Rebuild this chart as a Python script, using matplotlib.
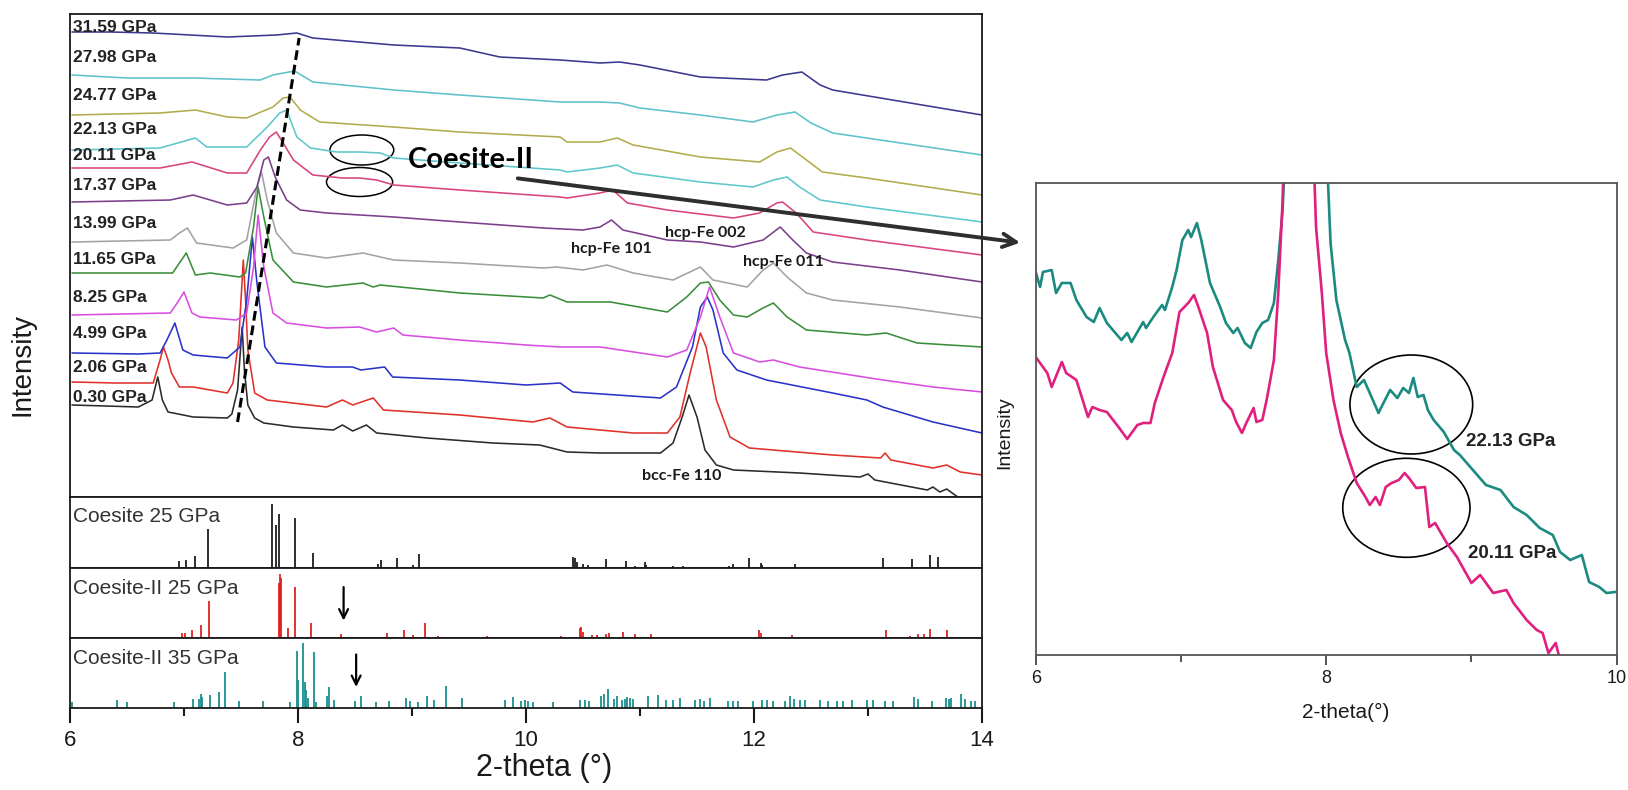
import matplotlib
matplotlib.use('Agg')
import matplotlib.pyplot as plt
from matplotlib.patches import Ellipse, FancyArrowPatch
from matplotlib.ticker import MultipleLocator, NullLocator

plt.rcParams['font.family'] = ['Liberation Sans', 'DejaVu Sans']

# ---------------- main panel traces (2-theta, intensity a.u.) ----------------
x_030 = [6.02, 6.60, 6.72, 6.77, 6.81, 6.86, 6.95, 7.08, 7.38, 7.42, 7.47, 7.51, 7.53, 7.56, 7.62, 7.70, 7.96, 8.31,
         8.39, 8.48, 8.60, 8.69, 9.13, 9.71, 10.12, 10.36, 10.65, 11.18, 11.29, 11.37, 11.43, 11.50, 11.57, 11.67,
         11.82, 12.40, 12.93, 13.00, 13.06, 13.52, 13.57, 13.63, 13.69, 13.80]
y_030 = [95, 93, 100, 123, 100, 88, 86, 83, 82, 86, 110, 173, 130, 95, 82, 77, 73, 70,
         75, 69, 75, 67, 62, 57, 55, 48, 47, 47, 57, 83, 105, 83, 50, 35,
         30, 27, 23, 26, 20, 10, 13, 8, 11, 2]

x_206 = [6.02, 6.40, 6.73, 6.79, 6.82, 6.86, 6.89, 6.96, 7.08, 7.38, 7.43, 7.48, 7.52, 7.54, 7.56, 7.62, 7.73, 8.25,
         8.39, 8.48, 8.66, 8.75, 9.42, 10.06, 10.21, 10.36, 10.94, 11.24, 11.35, 11.44, 11.53, 11.58, 11.67, 11.79,
         11.96, 12.69, 13.11, 13.15, 13.20, 13.57, 13.69, 13.81, 14.0]
y_206 = [118, 117, 117, 140, 153, 140, 127, 113, 113, 107, 117, 160, 240, 200, 150, 107, 100, 93,
         100, 95, 102, 90, 85, 78, 82, 73, 67, 67, 83, 127, 167, 153, 100, 63,
         52, 45, 42, 47, 40, 32, 35, 28, 25]

x_499 = [6.02, 6.60, 6.79, 6.85, 6.92, 6.99, 7.08, 7.38, 7.49, 7.55, 7.60, 7.64, 7.71, 7.81, 8.25, 8.48, 8.55, 8.76,
         8.83, 9.42, 10.0, 10.30, 10.41, 11.18, 11.32, 11.46, 11.53, 11.59, 11.64, 11.73, 11.85, 12.11, 12.69,
         12.99, 13.13, 13.57, 14.0]
y_499 = [147, 146, 147, 160, 177, 150, 145, 142, 153, 200, 263, 217, 153, 137, 133, 133, 130, 133,
         123, 120, 115, 117, 108, 102, 113, 153, 193, 203, 190, 147, 130, 120, 107,
         100, 93, 78, 67]

x_825 = [6.02, 6.88, 6.94, 7.00, 7.07, 7.14, 7.46, 7.55, 7.61, 7.65, 7.70, 7.78, 7.90, 8.25, 8.54, 8.69, 8.84, 8.92,
         9.42, 10.0, 10.30, 10.65, 11.24, 11.41, 11.53, 11.61, 11.70, 11.82, 12.05, 12.17, 12.40, 13.13, 13.57, 14.0]
y_825 = [185, 187, 197, 208, 187, 183, 180, 187, 233, 285, 233, 187, 177, 172, 173, 168, 172, 165,
         160, 155, 153, 153, 143, 150, 183, 213, 183, 147, 138, 140, 133, 120, 113, 108]

x_1165 = [6.02, 6.90, 6.96, 7.02, 7.10, 7.23, 7.49, 7.54, 7.61, 7.65, 7.70, 7.78, 7.96, 8.25, 8.57, 8.66, 8.72, 9.42,
          10.15, 10.21, 10.36, 10.74, 11.24, 11.41, 11.53, 11.60, 11.70, 11.82, 11.94, 12.08, 12.17, 12.29, 12.46,
          12.99, 13.16, 13.43, 14.0]
y_1165 = [227, 227, 237, 247, 225, 227, 223, 227, 273, 313, 283, 240, 218, 213, 217, 213, 215, 207,
          202, 205, 198, 198, 188, 203, 217, 218, 200, 185, 183, 192, 197, 183, 170,
          165, 167, 157, 153]

x_1399 = [6.02, 6.88, 6.96, 7.03, 7.11, 7.43, 7.55, 7.64, 7.68, 7.73, 7.81, 7.96, 8.25, 8.57, 8.84, 9.42, 10.15,
          10.27, 10.50, 10.71, 10.94, 11.29, 11.53, 11.64, 11.94, 12.08, 12.17, 12.29, 12.46, 12.69, 13.28, 14.0]
y_1399 = [258, 260, 267, 272, 257, 252, 260, 313, 328, 300, 267, 247, 242, 247, 240, 237, 232,
          233, 230, 235, 227, 220, 233, 220, 213, 230, 237, 223, 207, 200, 193, 182]

x_1737 = [6.02, 6.88, 7.08, 7.38, 7.55, 7.64, 7.70, 7.74, 7.80, 7.90, 8.02, 8.25, 8.84, 9.42, 10.15, 10.50, 10.65,
          10.75, 10.85, 11.24, 11.53, 11.82, 12.08, 12.23, 12.34, 12.46, 12.69, 13.28, 14.0]
y_1737 = [298, 300, 305, 295, 297, 313, 340, 343, 323, 300, 290, 287, 283, 278, 272, 270, 273,
          280, 270, 260, 258, 253, 260, 273, 260, 247, 238, 230, 218]

x_2011 = [6.02, 6.79, 7.07, 7.38, 7.55, 7.67, 7.75, 7.81, 7.87, 7.96, 8.13, 8.39, 8.54, 8.69, 8.84, 9.42, 10.30,
          10.36, 10.65, 10.76, 10.89, 11.24, 11.82, 12.05, 12.20, 12.25, 12.37, 12.52, 12.99, 14.0]
y_2011 = [332, 332, 338, 327, 327, 350, 363, 368, 357, 340, 325, 322, 322, 320, 315, 310, 303,
          302, 307, 310, 297, 290, 282, 287, 297, 298, 287, 268, 260, 245]

x_2213 = [6.02, 6.79, 7.10, 7.20, 7.55, 7.73, 7.84, 7.90, 7.99, 8.11, 8.34, 8.54, 8.72, 8.84, 9.42, 10.30, 10.36,
          10.65, 10.80, 10.94, 11.53, 11.99, 12.17, 12.29, 12.40, 12.58, 12.99, 14.0]
y_2213 = [350, 352, 362, 353, 353, 373, 387, 390, 363, 352, 348, 348, 347, 342, 337, 330, 328,
          332, 335, 327, 318, 313, 320, 323, 313, 300, 293, 278]

x_2477 = [6.02, 6.79, 7.10, 7.38, 7.55, 7.78, 7.87, 7.93, 8.02, 8.19, 8.84, 9.42, 10.30, 10.36, 10.65, 10.80, 10.94,
          11.53, 12.05, 12.20, 12.32, 12.46, 12.60, 12.99, 14.0]
y_2477 = [385, 387, 390, 383, 382, 393, 402, 403, 390, 378, 373, 368, 363, 358, 358, 362, 355,
          343, 338, 348, 352, 340, 328, 322, 305]

x_2798 = [6.02, 6.50, 7.08, 7.67, 7.78, 7.97, 8.13, 8.84, 9.42, 10.30, 10.65, 10.82, 11.0, 11.53, 11.99, 12.20,
          12.36, 12.50, 12.69, 14.0]
y_2798 = [425, 422, 422, 420, 425, 429, 418, 410, 405, 398, 398, 397, 392, 385, 378, 385,
          388, 377, 367, 345]

x_3159 = [6.02, 6.35, 6.73, 7.38, 7.81, 7.99, 8.13, 8.84, 9.42, 9.77, 10.30, 10.65, 10.82, 11.0, 11.53, 12.11,
          12.25, 12.42, 12.58, 12.69, 14.0]
y_3159 = [468, 468, 467, 463, 465, 467, 462, 455, 452, 443, 440, 437, 438, 435, 423, 420,
          425, 428, 415, 410, 385]

pressures = ['0.30 GPa', '2.06 GPa', '4.99 GPa', '8.25 GPa', '11.65 GPa', '13.99 GPa',
             '17.37 GPa', '20.11 GPa', '22.13 GPa', '24.77 GPa', '27.98 GPa', '31.59 GPa']
trace_x = [x_030, x_206, x_499, x_825, x_1165, x_1399, x_1737, x_2011, x_2213, x_2477, x_2798, x_3159]
trace_y = [y_030, y_206, y_499, y_825, y_1165, y_1399, y_1737, y_2011, y_2213, y_2477, y_2798, y_3159]
trace_colors = ['#2b2b2b', '#e0302a', '#2a33c8', '#d84ee0', '#3a8e3a', '#a3a3a3',
                '#7b3f8c', '#d9437f', '#5ec6cc', '#b3ab4c', '#5ec2cc', '#3c388e']
label_y = [103, 132, 167, 203, 240, 277, 314, 344, 370, 405, 442, 472]

# ---------------- reference stick patterns ----------------
coe25_x = [6.96, 7.02, 7.10, 7.21, 7.77, 7.81, 7.83, 7.97, 8.13, 8.70, 8.73, 8.87, 9.01, 9.06,
           10.41, 10.43, 10.45, 10.50, 10.54, 10.70, 10.88, 10.96, 11.04, 11.05, 11.29, 11.38, 11.78,
           11.82, 11.96, 12.06, 12.07, 12.36, 13.13, 13.39, 13.54, 13.61]
coe25_h = [6.7, 8.3, 12, 38.7, 63.7, 43, 53.7, 50, 14.7, 4.3, 8, 9.7, 2.7, 14.3,
           11, 10, 6, 3.7, 2.7, 8.7, 7, 2, 6, 2.7, 1.7, 1.7, 1.7,
           4.3, 10.3, 5, 3, 4.3, 10, 9.3, 12.7, 11]

coe2_25_x = [6.26, 6.98, 7.01, 7.07, 7.15, 7.22, 7.83, 7.84, 7.85, 7.91, 7.97, 8.11, 8.38, 8.78, 8.93, 9.01,
             9.11, 9.23, 9.66, 9.77, 10.31, 10.47, 10.48, 10.50, 10.58, 10.62, 10.70, 10.73, 10.85, 10.96,
             11.10, 11.26, 11.38, 11.53, 11.82, 12.04, 12.06, 12.33, 12.75, 13.16, 13.37, 13.44, 13.49,
             13.54, 13.69]
coe2_25_h = [1, 5, 5, 8.3, 12.7, 37, 55, 63.7, 60, 10.3, 51, 15, 3.7, 5, 7.7, 2.7,
             15, 1.7, 2, 1, 1.7, 10.3, 11, 6, 3.3, 2.7, 3.7, 5, 6, 3.7,
             4.3, 1, 1, 0.7, 0.7, 7.7, 5, 3.3, 1, 7.7, 1.7, 4.3, 3.7,
             9.3, 8.3]

coe2_35_x = [6.02, 6.41, 6.50, 6.91, 7.08, 7.13, 7.15, 7.16, 7.23, 7.31, 7.36, 7.48, 7.69, 7.93, 7.99, 8.00,
             8.04, 8.06, 8.07, 8.09, 8.14, 8.16, 8.25, 8.27, 8.32, 8.50, 8.55, 8.68, 8.80, 8.95, 8.98, 9.05,
             9.13, 9.19, 9.30, 9.44, 9.82, 9.89, 9.96, 9.99, 10.02, 10.06, 10.24, 10.47, 10.52, 10.55,
             10.66, 10.68, 10.72, 10.77, 10.80, 10.84, 10.87, 10.89, 10.91, 10.94, 11.07, 11.16, 11.23,
             11.29, 11.35, 11.48, 11.53, 11.56, 11.61, 11.77, 11.82, 11.86, 11.99, 12.07, 12.11, 12.17,
             12.27, 12.32, 12.35, 12.40, 12.45, 12.58, 12.65, 12.73, 12.78, 12.86, 12.99, 13.04, 13.15,
             13.22, 13.40, 13.44, 13.56, 13.68, 13.71, 13.73, 13.82, 13.85, 13.90, 13.94]
coe2_35_h = [5.7, 7.7, 5.7, 5.7, 9, 9, 14.3, 11, 13.3, 16, 35.7, 6.7, 6.7, 6, 57.3, 27.7,
             65, 25.7, 18.3, 10, 55.7, 6, 12.3, 21, 8.3, 6.7, 12.3, 6, 6.7, 10, 6.7, 6,
             11.7, 7.7, 22.3, 10, 7.7, 11, 6.7, 8.3, 6.7, 6, 6, 7.7, 7.7, 6.7,
             11.7, 14.3, 19, 9, 11.7, 7.7, 9, 11, 10, 9, 12.3, 13.3, 7.7,
             7.7, 10, 7.7, 9, 6.7, 10, 6.7, 6.7, 6.7, 6.7, 7.7, 7.7, 6.7,
             6.7, 11.7, 9, 7.7, 7.7, 8.3, 6.7, 6.7, 6.7, 7.7, 7.7, 7.7, 6.7,
             6.7, 11, 9, 6.7, 10, 9, 10, 14.3, 9, 6.7, 6.7]

stick_labels = ['Coesite 25 GPa', 'Coesite-II 25 GPa', 'Coesite-II 35 GPa']
stick_x = [coe25_x, coe2_25_x, coe2_35_x]
stick_h = [coe25_h, coe2_25_h, coe2_35_h]
stick_colors = ['#1e1e1e', '#e02222', '#1a8f8f']

# ---------------- inset (right) traces ----------------
ins_x_2213 = [6.00, 6.03, 6.05, 6.11, 6.14, 6.18, 6.24, 6.28, 6.35, 6.40, 6.44, 6.49, 6.59, 6.63, 6.66, 6.74,
              6.76, 6.81, 6.87, 6.89, 6.94, 6.97, 7.01, 7.05, 7.07, 7.11, 7.14, 7.20, 7.27, 7.31, 7.36, 7.39,
              7.44, 7.48, 7.52, 7.56, 7.60, 7.64, 7.67, 7.70, 7.86, 8.03, 8.07, 8.13, 8.16, 8.21, 8.26, 8.30,
              8.36, 8.38, 8.44, 8.49, 8.53, 8.57, 8.60, 8.63, 8.67, 8.70, 8.74, 8.81, 8.88, 8.92, 9.01, 9.10,
              9.20, 9.29, 9.38, 9.47, 9.56, 9.61, 9.68, 9.76, 9.81, 9.88, 9.93, 9.99]
ins_y_2213 = [383, 368, 383, 385, 362, 372, 372, 355, 338, 333, 347, 332, 315, 322, 313, 333,
              327, 338, 350, 345, 368, 385, 415, 425, 418, 432, 415, 372, 348, 332, 322, 327,
              312, 307, 323, 332, 335, 352, 395, 445, 1000, 412, 355, 315, 302, 268, 275, 262,
              242, 248, 265, 257, 267, 262, 277, 258, 260, 245, 235, 223, 205, 200, 185, 170,
              165, 148, 140, 127, 120, 103, 95, 100, 73, 68, 62, 63]

ins_x_2011 = [6.00, 6.03, 6.08, 6.11, 6.18, 6.21, 6.28, 6.36, 6.39, 6.44, 6.49, 6.57, 6.63, 6.70, 6.74, 6.79,
              6.82, 6.88, 6.94, 6.99, 7.05, 7.09, 7.12, 7.18, 7.22, 7.29, 7.35, 7.38, 7.42, 7.45, 7.50, 7.52,
              7.56, 7.59, 7.64, 7.67, 7.70, 7.80, 7.93, 7.97, 8.00, 8.05, 8.10, 8.15, 8.21, 8.27, 8.30, 8.34,
              8.37, 8.41, 8.45, 8.50, 8.54, 8.57, 8.62, 8.68, 8.71, 8.75, 8.83, 8.90, 9.00, 9.06, 9.15, 9.24,
              9.29, 9.38, 9.45, 9.49, 9.53, 9.58, 9.61]
ins_y_2011 = [298, 292, 282, 268, 293, 282, 275, 238, 248, 245, 243, 228, 216, 230, 232, 232,
              252, 278, 302, 343, 352, 360, 348, 322, 288, 255, 245, 233, 222, 232, 247, 233,
              235, 255, 295, 362, 455, 1000, 428, 362, 302, 255, 222, 198, 172, 158, 150, 158,
              150, 168, 172, 175, 182, 177, 167, 168, 128, 132, 112, 98, 72, 80, 62, 65,
              52, 35, 25, 22, 2, 12, -5]

W, H = 1628, 790
fig = plt.figure(figsize=(W / 100, H / 100), dpi=100)


def box(x0, y0, x1, y1):
    return [x0 / W, 1 - y1 / H, (x1 - x0) / W, (y1 - y0) / H]


FRAME = '#1a1a1a'
LB = ['Lato', 'DejaVu Sans']

# ---- main panel ----
ax = fig.add_axes(box(70, 14, 982, 497))
for xs, ys, c in zip(trace_x, trace_y, trace_colors):
    ax.plot(xs, ys, color=c, lw=1.15, solid_joinstyle='round')
for lab, ly in zip(pressures, label_y):
    ax.text(6.03, ly, lab, fontsize=12.5, fontweight='bold', color='#222222', va='center', ha='left')
ax.set_xlim(6, 14)
ax.set_ylim(3, 486)
ax.xaxis.set_major_locator(NullLocator())
ax.yaxis.set_major_locator(NullLocator())
for s in ax.spines.values():
    s.set_linewidth(1.3)
    s.set_color(FRAME)

ax.plot([7.47, 8.01], [78, 462], color='black', lw=2.2, ls=(0, (3.2, 1.6)))
ax.add_patch(Ellipse((8.56, 350), 0.56, 30, fill=False, lw=1.1, color='black'))
ax.add_patch(Ellipse((8.54, 318), 0.58, 29, fill=False, lw=1.1, color='black'))
ax.text(8.96, 340, 'Coesite-II', family=LB, fontsize=21, fontweight='bold', va='center', ha='left', color='black')
for txt, tx, ty in [('hcp-Fe 101', 10.75, 251), ('hcp-Fe 002', 11.57, 267),
                    ('hcp-Fe 011', 12.26, 238), ('bcc-Fe 110', 11.37, 24)]:
    ax.text(tx, ty, txt, family=LB, fontsize=11.5, fontweight='bold', ha='center', va='center', color='#1a1a1a')

# ---- stick panels ----
panel_px = [(497, 568), (568, 638), (638, 708)]
sax = []
for i, (y0, y1) in enumerate(panel_px):
    a = fig.add_axes(box(70, y0, 982, y1))
    a.vlines(stick_x[i], 0, stick_h[i], color=stick_colors[i], lw=1.3)
    a.set_xlim(6, 14)
    a.set_ylim(0, y1 - y0)
    a.yaxis.set_major_locator(NullLocator())
    a.text(6.03, (y1 - y0) - 20, stick_labels[i], fontsize=15, color='#333333', va='center', ha='left')
    for s in a.spines.values():
        s.set_linewidth(1.3)
        s.set_color(FRAME)
    if i < 2:
        a.xaxis.set_major_locator(NullLocator())
    sax.append(a)

sax[1].annotate('', xy=(8.40, 14.7), xytext=(8.40, 53.7),
                arrowprops=dict(arrowstyle='->', lw=1.6, color='black', mutation_scale=16))
sax[2].annotate('', xy=(8.51, 18.3), xytext=(8.51, 56.3),
                arrowprops=dict(arrowstyle='->', lw=1.6, color='black', mutation_scale=16))

a3 = sax[2]
a3.xaxis.set_major_locator(MultipleLocator(2))
a3.xaxis.set_minor_locator(MultipleLocator(1))
a3.tick_params(axis='x', which='major', direction='out', length=11, width=1.5, labelsize=16, pad=5,
               colors=FRAME, labelcolor='#1a1a1a')
a3.tick_params(axis='x', which='minor', direction='out', length=6, width=1.5, colors=FRAME)

fig.text(544 / W, 1 - 768 / H, '2-theta (°)', fontsize=22, ha='center', va='center', color='#1a1a1a')
fig.text(22 / W, 1 - 365 / H, 'Intensity', fontsize=20, rotation=90, ha='center', va='center', color='#1a1a1a')

# ---- inset panel ----
ax2 = fig.add_axes(box(1035.7, 183, 1616.7, 655))
ax2.plot(ins_x_2213, ins_y_2213, color='#1b8a80', lw=1.9)
ax2.plot(ins_x_2011, ins_y_2011, color='#e0207f', lw=1.9)
ax2.set_xlim(6, 10)
ax2.set_ylim(0, 472)
ax2.yaxis.set_major_locator(NullLocator())
ax2.xaxis.set_major_locator(MultipleLocator(2))
ax2.xaxis.set_minor_locator(MultipleLocator(1))
ax2.tick_params(axis='x', which='major', direction='out', length=7, width=1.3, labelsize=13, pad=4,
                colors='#444444', labelcolor='#1a1a1a')
ax2.tick_params(axis='x', which='minor', direction='out', length=5, width=1.3, colors='#444444')
for s in ax2.spines.values():
    s.set_linewidth(1.3)
    s.set_color('#555555')
ax2.add_patch(Ellipse((8.586, 250.5), 0.845, 99, fill=False, lw=1.2, color='black'))
ax2.add_patch(Ellipse((8.552, 147.2), 0.876, 99, fill=False, lw=1.2, color='black'))
ax2.text(8.96, 213, '22.13 GPa', fontsize=13.5, fontweight='bold', color='#222222', va='center', ha='left')
ax2.text(8.975, 101, '20.11 GPa', fontsize=13.5, fontweight='bold', color='#222222', va='center', ha='left')
fig.text(1346 / W, 1 - 712 / H, '2-theta(°)', fontsize=15, ha='center', va='center', color='#1a1a1a')
fig.text(1005 / W, 1 - 433 / H, 'Intensity', fontsize=14, rotation=90, ha='center', va='center', color='#1a1a1a')

# ---- connecting arrow ----
arr = FancyArrowPatch((515 / W, 1 - 178 / H), (1023 / W, 1 - 243 / H), transform=fig.transFigure,
                      arrowstyle='->', mutation_scale=24, lw=2.8, color='#2e2e2e')
fig.add_artist(arr)

fig.savefig('out.png', dpi=100)
